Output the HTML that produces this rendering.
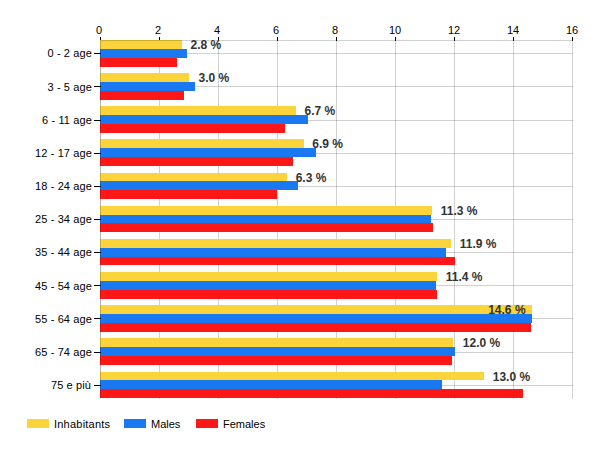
<!DOCTYPE html><html><head><meta charset="utf-8"><style>
html,body{margin:0;padding:0;background:#fff;width:600px;height:450px;overflow:hidden;}
.w{position:relative;width:600px;height:450px;font-family:"Liberation Sans",sans-serif;}
svg{position:absolute;left:0;top:0;}
.t{position:absolute;white-space:nowrap;font-size:11px;line-height:11px;color:#000000;}
.c{text-align:right;width:90px;}
.n{text-align:center;width:30px;}
.l{font-weight:bold;font-size:12px;line-height:12px;color:#333333;}
.sw{position:absolute;width:22px;height:9px;}
</style></head><body><div class="w">
<svg width="600" height="450" viewBox="0 0 600 450" shape-rendering="crispEdges">
<rect x="0" y="0" width="600" height="450" fill="#fff"/>
<rect x="159" y="41" width="1" height="358" fill="#000" fill-opacity="0.18"/>
<rect x="218" y="41" width="1" height="358" fill="#000" fill-opacity="0.18"/>
<rect x="277" y="41" width="1" height="358" fill="#000" fill-opacity="0.18"/>
<rect x="336" y="41" width="1" height="358" fill="#000" fill-opacity="0.18"/>
<rect x="395" y="41" width="1" height="358" fill="#000" fill-opacity="0.18"/>
<rect x="454" y="41" width="1" height="358" fill="#000" fill-opacity="0.18"/>
<rect x="513" y="41" width="1" height="358" fill="#000" fill-opacity="0.18"/>
<rect x="572" y="41" width="1" height="358" fill="#000" fill-opacity="0.18"/>
<rect x="101" y="53" width="472" height="1" fill="#000" fill-opacity="0.18"/>
<rect x="101" y="86" width="472" height="1" fill="#000" fill-opacity="0.18"/>
<rect x="101" y="120" width="472" height="1" fill="#000" fill-opacity="0.18"/>
<rect x="101" y="153" width="472" height="1" fill="#000" fill-opacity="0.18"/>
<rect x="101" y="186" width="472" height="1" fill="#000" fill-opacity="0.18"/>
<rect x="101" y="219" width="472" height="1" fill="#000" fill-opacity="0.18"/>
<rect x="101" y="252" width="472" height="1" fill="#000" fill-opacity="0.18"/>
<rect x="101" y="285" width="472" height="1" fill="#000" fill-opacity="0.18"/>
<rect x="101" y="318" width="472" height="1" fill="#000" fill-opacity="0.18"/>
<rect x="101" y="352" width="472" height="1" fill="#000" fill-opacity="0.18"/>
<rect x="101" y="385" width="472" height="1" fill="#000" fill-opacity="0.18"/>
<rect x="100" y="40" width="1" height="358" fill="#e0e0e0"/>
<rect x="100" y="37" width="1" height="4" fill="#000"/>
<rect x="159" y="37" width="1" height="4" fill="#000"/>
<rect x="218" y="37" width="1" height="4" fill="#000"/>
<rect x="277" y="37" width="1" height="4" fill="#000"/>
<rect x="336" y="37" width="1" height="4" fill="#000"/>
<rect x="395" y="37" width="1" height="4" fill="#000"/>
<rect x="454" y="37" width="1" height="4" fill="#000"/>
<rect x="513" y="37" width="1" height="4" fill="#000"/>
<rect x="572" y="37" width="1" height="4" fill="#000"/>
<rect x="100" y="40" width="82" height="9" fill="#fad43a"/>
<rect x="100" y="49" width="87" height="9" fill="#1a78f0"/>
<rect x="100" y="58" width="77" height="9" fill="#ff1616"/>
<rect x="100" y="73" width="89" height="9" fill="#fad43a"/>
<rect x="100" y="82" width="95" height="9" fill="#1a78f0"/>
<rect x="100" y="91" width="84" height="9" fill="#ff1616"/>
<rect x="100" y="106" width="196" height="9" fill="#fad43a"/>
<rect x="100" y="115" width="208" height="9" fill="#1a78f0"/>
<rect x="100" y="124" width="185" height="9" fill="#ff1616"/>
<rect x="100" y="139" width="204" height="9" fill="#fad43a"/>
<rect x="100" y="148" width="216" height="9" fill="#1a78f0"/>
<rect x="100" y="157" width="193" height="9" fill="#ff1616"/>
<rect x="100" y="173" width="187" height="8" fill="#fad43a"/>
<rect x="100" y="181" width="198" height="9" fill="#1a78f0"/>
<rect x="100" y="190" width="177" height="9" fill="#ff1616"/>
<rect x="100" y="206" width="332" height="9" fill="#fad43a"/>
<rect x="100" y="215" width="331" height="8" fill="#1a78f0"/>
<rect x="100" y="223" width="333" height="9" fill="#ff1616"/>
<rect x="100" y="239" width="351" height="9" fill="#fad43a"/>
<rect x="100" y="248" width="346" height="9" fill="#1a78f0"/>
<rect x="100" y="257" width="355" height="8" fill="#ff1616"/>
<rect x="100" y="272" width="337" height="9" fill="#fad43a"/>
<rect x="100" y="281" width="336" height="9" fill="#1a78f0"/>
<rect x="100" y="290" width="337" height="9" fill="#ff1616"/>
<rect x="100" y="305" width="432" height="9" fill="#fad43a"/>
<rect x="100" y="314" width="432" height="9" fill="#1a78f0"/>
<rect x="100" y="323" width="431" height="9" fill="#ff1616"/>
<rect x="100" y="338" width="353" height="9" fill="#fad43a"/>
<rect x="100" y="347" width="355" height="9" fill="#1a78f0"/>
<rect x="100" y="356" width="352" height="9" fill="#ff1616"/>
<rect x="100" y="372" width="384" height="8" fill="#fad43a"/>
<rect x="100" y="380" width="342" height="9" fill="#1a78f0"/>
<rect x="100" y="389" width="423" height="9" fill="#ff1616"/>
<rect x="100" y="40" width="1" height="358" fill="#000" fill-opacity="0.2"/>
<rect x="101" y="40" width="472" height="1" fill="#000" fill-opacity="0.18"/>
<rect x="94" y="53" width="7" height="1" fill="#000"/>
<rect x="94" y="86" width="7" height="1" fill="#000"/>
<rect x="94" y="120" width="7" height="1" fill="#000"/>
<rect x="94" y="153" width="7" height="1" fill="#000"/>
<rect x="94" y="186" width="7" height="1" fill="#000"/>
<rect x="94" y="219" width="7" height="1" fill="#000"/>
<rect x="94" y="252" width="7" height="1" fill="#000"/>
<rect x="94" y="285" width="7" height="1" fill="#000"/>
<rect x="94" y="318" width="7" height="1" fill="#000"/>
<rect x="94" y="352" width="7" height="1" fill="#000"/>
<rect x="94" y="385" width="7" height="1" fill="#000"/>
</svg>
<div class="t c" style="left:2px;top:48px;letter-spacing:0.12px">0 - 2 age</div>
<div class="t c" style="left:2px;top:82px;letter-spacing:0.12px">3 - 5 age</div>
<div class="t c" style="left:2px;top:115px;letter-spacing:0.12px">6 - 11 age</div>
<div class="t c" style="left:2px;top:148px;letter-spacing:0.12px">12 - 17 age</div>
<div class="t c" style="left:2px;top:181px;letter-spacing:0.12px">18 - 24 age</div>
<div class="t c" style="left:2px;top:214px;letter-spacing:0.12px">25 - 34 age</div>
<div class="t c" style="left:2px;top:247px;letter-spacing:0.12px">35 - 44 age</div>
<div class="t c" style="left:2px;top:281px;letter-spacing:0.12px">45 - 54 age</div>
<div class="t c" style="left:2px;top:314px;letter-spacing:0.12px">55 - 64 age</div>
<div class="t c" style="left:2px;top:347px;letter-spacing:0.12px">65 - 74 age</div>
<div class="t c" style="left:1px;top:380px;letter-spacing:0.12px">75 e più</div>
<div class="t n" style="left:84px;top:25px">0</div>
<div class="t n" style="left:143px;top:25px">2</div>
<div class="t n" style="left:202px;top:25px">4</div>
<div class="t n" style="left:261px;top:25px">6</div>
<div class="t n" style="left:320px;top:25px">8</div>
<div class="t n" style="left:380px;top:25px">10</div>
<div class="t n" style="left:439px;top:25px">12</div>
<div class="t n" style="left:498px;top:25px">14</div>
<div class="t n" style="left:557px;top:25px">16</div>
<div class="t l" style="left:190.5px;top:39px">2.8 %</div>
<div class="t l" style="left:198.5px;top:72px">3.0 %</div>
<div class="t l" style="left:304.6px;top:105px">6.7 %</div>
<div class="t l" style="left:312.3px;top:138px">6.9 %</div>
<div class="t l" style="left:295.7px;top:172px">6.3 %</div>
<div class="t l" style="left:440.8px;top:205px">11.3 %</div>
<div class="t l" style="left:459.8px;top:238px">11.9 %</div>
<div class="t l" style="left:445.8px;top:271px">11.4 %</div>
<div class="t l" style="left:488.2px;top:304px">14.6 %</div>
<div class="t l" style="left:462.8px;top:337px">12.0 %</div>
<div class="t l" style="left:492.75px;top:371px">13.0 %</div>
<div class="sw" style="left:27px;top:419px;background:#fad43a"></div>
<div class="t" style="left:54px;top:419px;letter-spacing:0.22px;">Inhabitants</div>
<div class="sw" style="left:124px;top:419px;background:#1a78f0"></div>
<div class="t" style="left:151px;top:419px;">Males</div>
<div class="sw" style="left:196px;top:419px;background:#ff1616"></div>
<div class="t" style="left:223px;top:419px;">Females</div>
</div></body></html>
